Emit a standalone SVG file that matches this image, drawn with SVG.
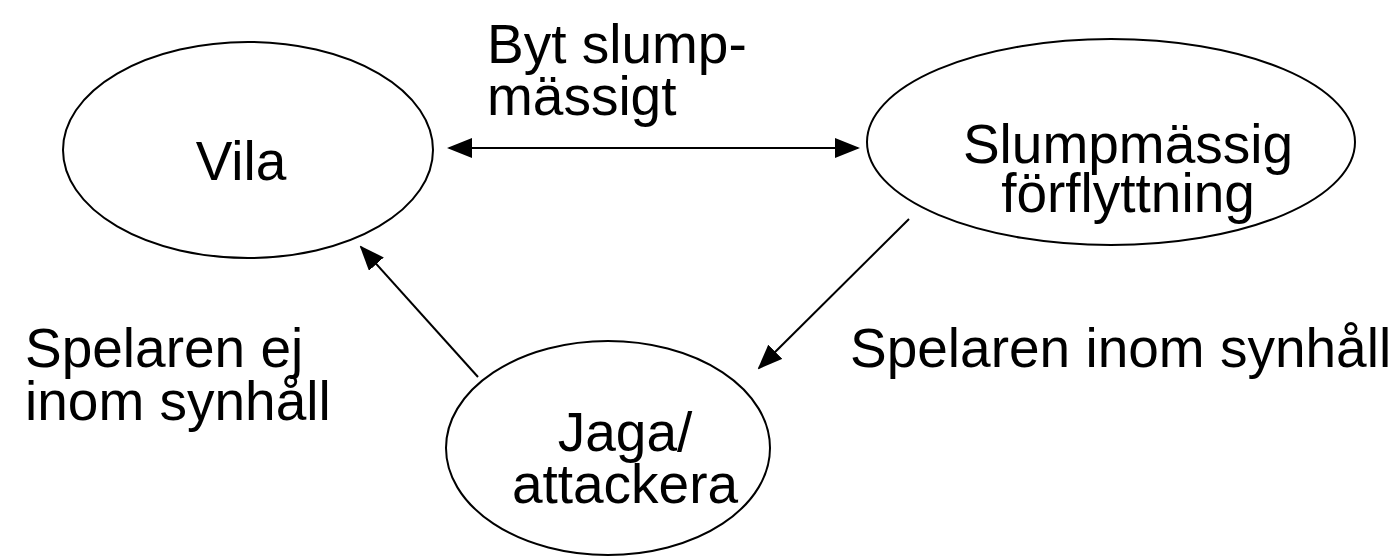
<svg xmlns="http://www.w3.org/2000/svg" width="1398" height="557" viewBox="0 0 1398 557">
<style>
.node{fill:#fff;stroke:#000;stroke-width:2}
.lbl{font-family:"Liberation Sans",Arial,Helvetica,sans-serif;font-size:55px;fill:#000}
.edge{stroke:#000;stroke-width:2;fill:none}
</style>
<defs>
<marker id="ah" viewBox="0 0 25 20" refX="23" refY="10" markerWidth="25" markerHeight="20" markerUnits="userSpaceOnUse" orient="auto-start-reverse">
<path d="M0,0 L25,10 L0,20 z" fill="#000"/>
</marker>
</defs>
<rect width="1398" height="557" fill="#fff"/>
<g id="connectors">
<line class="edge" x1="449" y1="148" x2="858" y2="148" marker-start="url(#ah)" marker-end="url(#ah)"/>
<line class="edge" x1="478" y1="377" x2="361" y2="247" marker-end="url(#ah)"/>
<line class="edge" x1="909" y1="219" x2="759" y2="368" marker-end="url(#ah)"/>
</g>
<g id="node-vila">
<ellipse class="node" cx="248" cy="150" rx="185" ry="108"/>
<text class="lbl" x="241" y="180" text-anchor="middle">Vila</text>
</g>
<g id="node-slump">
<ellipse class="node" cx="1111" cy="142" rx="244" ry="103"/>
<text class="lbl" x="1128" y="163" text-anchor="middle">Slumpmässig</text>
<text class="lbl" x="1128" y="212" text-anchor="middle">förflyttning</text>
</g>
<g id="node-jaga">
<ellipse class="node" cx="608" cy="448" rx="162" ry="107"/>
<text class="lbl" x="625" y="451" text-anchor="middle">Jaga/</text>
<text class="lbl" x="625" y="503" text-anchor="middle">attackera</text>
</g>
<g id="edge-labels">
<text class="lbl" x="487" y="63">Byt slump-</text>
<text class="lbl" x="487" y="115">mässigt</text>
<text class="lbl" x="25" y="367">Spelaren ej</text>
<text class="lbl" x="25" y="420">inom synhåll</text>
<text class="lbl" x="850" y="367">Spelaren inom synhåll</text>
</g>
</svg>
